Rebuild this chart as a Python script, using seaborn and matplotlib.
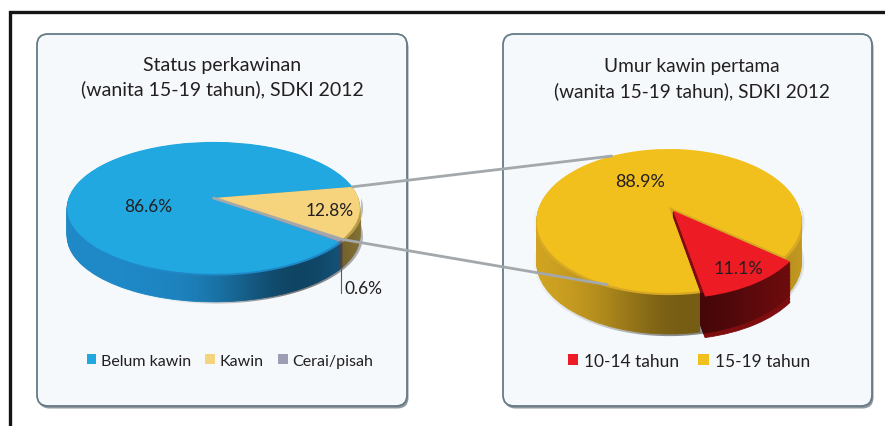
import numpy as np
import matplotlib.pyplot as plt
import seaborn as sns
from matplotlib.patches import FancyBboxPatch
from matplotlib.transforms import Transform, Affine2D
from matplotlib.path import Path

sns.set_theme(style='white')
plt.rcParams['font.family'] = ['Lato', 'DejaVu Sans']
TXT = '#231f20'

# ---- data ----
status_title = 'Status perkawinan\n(wanita 15-19 tahun), SDKI 2012'
status_labels = ['Belum kawin', 'Kawin', 'Cerai/pisah']
status_values = [86.6, 12.8, 0.6]

umur_title = 'Umur kawin pertama\n(wanita 15-19 tahun), SDKI 2012'
umur_labels = ['10-14 tahun', '15-19 tahun']
umur_values = [11.1, 88.9]

# colours (top face / side)
status_top = ['#21a8e1', '#f6d37d', '#9d9db3']
status_side = ['#1f88c6', '#b89d48', '#6c6c82']
umur_top = ['#ed1c24', '#f2c01d']
umur_side = ['#7e0d10', '#d6a823']

W, H = 885, 427
fig = plt.figure(figsize=(W / 100, H / 100), dpi=100)
bg = fig.add_axes([0, 0, 1, 1])
bg.set_xlim(0, W)
bg.set_ylim(H, 0)
bg.axis('off')

# outer frame
bg.plot([10, 10, W + 5], [H + 5, 13, 13], color='#151515', lw=2.4,
        solid_joinstyle='miter')

# rounded panels
for x0, x1 in [(37, 407), (503, 872)]:
    bg.add_patch(FancyBboxPatch((x0 + 1.5, 37.5), x1 - x0, 372,
                                boxstyle='round,pad=0,rounding_size=11',
                                fc='#8d979d', ec='none', zorder=1))
    bg.add_patch(FancyBboxPatch((x0, 35), x1 - x0, 372,
                                boxstyle='round,pad=0,rounding_size=11',
                                fc='#f5f9fc', ec='#667a86', lw=1.3, zorder=2))

bg.text(222, 78, status_title, ha='center', va='center', fontsize=14,
        color=TXT, linespacing=1.42)
bg.text(692, 79, umur_title, ha='center', va='center', fontsize=13.7,
        color=TXT, linespacing=1.5)


class Persp(Transform):
    # simple perspective tilt of the pie disc
    input_dims = 2
    output_dims = 2
    is_separable = False
    has_inverse = False

    def __init__(self, p):
        super().__init__()
        self.p = p

    def transform_non_affine(self, values):
        v = np.asarray(values, dtype=float)
        w = 1 + self.p * v[:, 1:2]
        return v / w


def make_ax(box):
    L, T, Wd, Ht = box
    ax = fig.add_axes([L / W, 1 - (T + Ht) / H, Wd / W, Ht / H])
    ax.set_zorder(3)
    return ax


def set_lims(ax, box, cx, cy, rx, ry):
    L, T, Wd, Ht = box
    ax.set_xlim((L - cx) / rx, (L + Wd - cx) / rx)
    ax.set_ylim((cy - (T + Ht)) / ry, (cy - T) / ry)
    ax.set_aspect('auto')
    ax.axis('off')


def pie3d(ax, values, top, side, p, depth, start, ccw, explode=None,
          shade=(0.5, 0.55, 0.55)):
    persp = Persp(p)
    for k in np.linspace(depth, 0, 30, endpoint=False):
        ws, _ = ax.pie(values, colors=side, startangle=start, counterclock=ccw,
                       explode=explode, wedgeprops=dict(linewidth=0.6))
        for w, c in zip(ws, side):
            w.set_edgecolor(c)
            w.set_zorder(1)
            w.set_transform(persp + Affine2D().translate(0, -k) + ax.transData)
    # horizontal shading on the side band
    t = np.linspace(np.pi, 2 * np.pi, 200)
    rim = persp.transform(np.c_[np.cos(t), np.sin(t)] * 1.02)
    band = np.vstack([rim, (rim - [0, depth])[::-1]])
    xs = np.linspace(-1.2, 1.2, 300)
    amp, mu, sig = shade
    rgba = np.zeros((1, xs.size, 4))
    rgba[..., 3] = amp * np.exp(-((xs - mu) / sig) ** 2)
    im = ax.imshow(rgba, extent=(-1.2, 1.2, -1.5 - depth, 0.5), aspect='auto',
                   interpolation='bilinear', zorder=1.5)
    im.set_clip_path(Path(band, closed=True), ax.transData)
    ws, _ = ax.pie(values, colors=top, startangle=start, counterclock=ccw,
                   explode=explode, wedgeprops=dict(linewidth=0))
    for w in ws:
        w.set_zorder(2)
        w.set_transform(persp + ax.transData)
    return ws, persp


def polar(persp, ang, r=1.0, centre=(0, 0)):
    a = np.deg2rad(ang)
    pt = np.array([[centre[0] + r * np.cos(a), centre[1] + r * np.sin(a)]])
    return persp.transform(pt)[0]


# ---- left pie ----
lbox = (40, 125, 362, 200)
lgeo = dict(cx=213.5, cy=199, rx=144.8, ry=64.5)
ldepth = 28 / lgeo['ry']
axl = make_ax(lbox)
lw_, lp = pie3d(axl, status_values, status_top, status_side, p=0.15,
                depth=ldepth, start=-38, ccw=False, shade=(0.5, 0.6, 0.55))
set_lims(axl, lbox, **lgeo)

mid = lambda w: (w.theta1 + w.theta2) / 2
axl.text(*polar(lp, 195, 0.46), f'{status_values[0]}%', ha='center',
         va='center', fontsize=12.5, color=TXT, zorder=5)
axl.text(*polar(lp, mid(lw_[1]), 0.8), f'{status_values[1]}%', ha='center',
         va='center', fontsize=12.5, color=TXT, zorder=5)
c_pt = polar(lp, mid(lw_[2]), 1.0)
axl.plot([c_pt[0], c_pt[0]], [c_pt[1] - ldepth, c_pt[1] - ldepth - 0.38],
         color='#5a5a5a', lw=0.8, zorder=5, clip_on=False)
axl.text(c_pt[0] + 0.025, c_pt[1] - ldepth - 0.3, f'{status_values[2]}%',
         ha='left', va='center', fontsize=12.5, color=TXT, zorder=5)
axl.legend(lw_, status_labels, loc='center', bbox_to_anchor=(230, 362),
           bbox_transform=bg.transData, ncol=3, frameon=False, fontsize=11.5,
           handlelength=0.6, handleheight=0.6, handletextpad=0.3,
           columnspacing=0.9, labelcolor=TXT)

# ---- right pie ----
rbox = (506, 130, 362, 220)
rgeo = dict(cx=669, cy=208, rx=130, ry=69.3)
rdepth = 41 / rgeo['ry']
axr = make_ax(rbox)
rw_, rp = pie3d(axr, umur_values, umur_top, umur_side, p=0.194,
                depth=rdepth, start=-79, ccw=True, explode=[0.06, 0],
                shade=(0.45, 0.15, 0.7))
set_lims(axr, rbox, **rgeo)
axr.text(*polar(rp, mid(rw_[1]), 0.47), f'{umur_values[1]}%', ha='center',
         va='center', fontsize=13, color=TXT, zorder=5)
axr.text(*polar(rp, mid(rw_[0]), 0.88), f'{umur_values[0]}%', ha='center',
         va='center', fontsize=13, color=TXT, zorder=5)
axr.legend(rw_, umur_labels, loc='center', bbox_to_anchor=(689, 362),
           bbox_transform=bg.transData, ncol=2, frameon=False, fontsize=12.5,
           handlelength=0.6, handleheight=0.6, handletextpad=0.35,
           columnspacing=1.1, labelcolor=TXT)

# ---- connector lines ----
top = fig.add_axes([0, 0, 1, 1], zorder=10)
top.set_xlim(0, W)
top.set_ylim(H, 0)
top.axis('off')


def to_px(ax, pt):
    return top.transData.inverted().transform(ax.transData.transform(pt))


kaw = lw_[1]
p_up = to_px(axl, polar(lp, kaw.theta2))
p_low = to_px(axl, polar(lp, kaw.theta1))
p_c = to_px(axl, (0, 0))
q_up = to_px(axr, polar(rp, 121))
q_low = to_px(axr, polar(rp, 247))
top.plot([p_up[0], q_up[0]], [p_up[1], q_up[1]], color='#a2a8ab', lw=2)
top.plot([p_c[0], p_low[0], q_low[0]], [p_c[1], p_low[1], q_low[1]],
         color='#a2a8ab', lw=2)

fig.savefig('out.png', dpi=100)
